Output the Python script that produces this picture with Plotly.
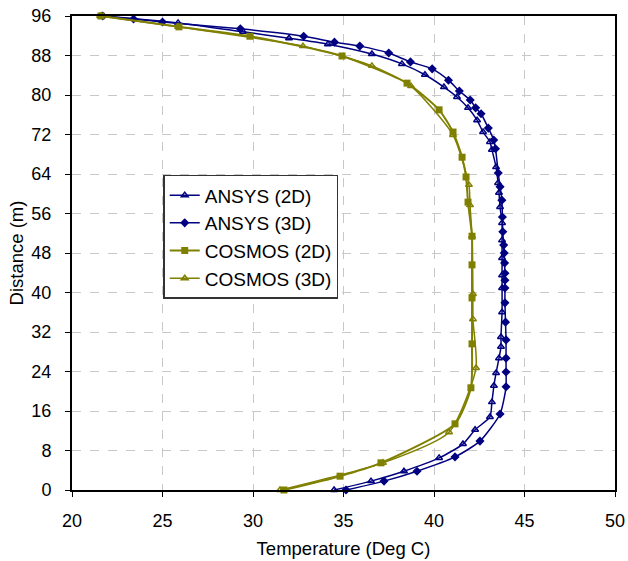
import plotly.graph_objects as go

# ANSYS (2D)
ansys2d_T = [21.66, 25.86, 29.45, 31.99, 34.14, 36.57, 38.23, 39.50, 40.55, 41.27, 41.88, 42.38,
             42.71, 43.09, 43.20, 43.43, 43.54, 43.59, 43.65, 43.76, 43.76, 43.76, 43.76, 43.76,
             43.76, 43.70, 43.70, 43.59, 43.43, 43.31, 43.20, 43.09, 42.27, 41.60, 40.28, 38.34,
             36.52, 34.48]
ansys2d_D = [96.0, 94.6, 92.8, 91.5, 90.3, 88.3, 86.3, 84.1, 81.6, 79.6, 77.4, 74.9,
             72.5, 70.5, 68.9, 65.4, 62.2, 60.2, 57.3, 54.1, 50.6, 47.0, 43.5, 40.9,
             36.0, 31.0, 29.0, 26.7, 23.7, 21.1, 17.8, 14.8, 12.2, 9.3, 6.5, 3.8,
             1.8, 0.0]

# ANSYS (3D)
ansys3d_T = [21.7, 23.4, 25.0, 29.3, 32.8, 34.5, 35.9, 37.5, 38.7, 39.9, 40.8, 41.4, 42.0, 42.3,
             42.6, 43.0, 43.3, 43.4, 43.55, 43.65, 43.75, 43.78, 43.8, 43.85, 43.88, 43.9,
             43.92, 43.92, 43.92, 43.92, 43.95, 43.98, 43.98, 43.98, 43.98, 43.65, 42.54,
             41.16, 39.06, 37.24, 35.14]
ansys3d_D = [96.0, 95.4, 94.8, 93.4, 91.9, 90.7, 89.9, 88.5, 86.7, 85.3, 83.0, 80.8, 79.0, 77.4,
             76.2, 73.3, 70.9, 69.1, 64.2, 61.4, 58.7, 55.3, 52.3, 49.6, 48.0, 46.0,
             43.9, 42.5, 40.9, 37.9, 34.0, 30.4, 26.7, 23.9, 20.9, 15.4, 9.9,
             6.7, 3.8, 1.8, 0.0]

# COSMOS (2D)
cosmos2d_T = [21.6, 25.91, 29.83, 34.92, 38.51, 40.28, 41.05, 41.55, 41.77, 41.88, 42.10,
              42.10, 42.10, 42.10, 42.04, 41.16, 37.07, 34.81, 31.71]
cosmos2d_D = [96.0, 93.8, 91.9, 87.9, 82.4, 77.0, 72.5, 67.4, 63.4, 58.3, 51.4,
              45.6, 38.9, 29.6, 20.7, 13.4, 5.5, 2.8, 0.0]

# COSMOS (3D)
cosmos3d_T = [21.55, 25.86, 32.76, 36.57, 38.73, 41.05, 41.93, 41.99, 42.10, 42.15, 42.15,
              42.32, 40.83, 37.18, 31.49]
cosmos3d_D = [96.0, 93.8, 89.9, 85.9, 81.8, 71.9, 61.8, 57.7, 51.4, 39.7, 34.6,
              24.7, 11.7, 5.5, 0.0]

x_ticks = [20, 25, 30, 35, 40, 45, 50]
y_ticks = [0, 8, 16, 24, 32, 40, 48, 56, 64, 72, 80, 88, 96]

NAVY = "#000080"
OLIVE = "#808000"

fig = go.Figure()
fig.add_trace(go.Scatter(x=ansys2d_T, y=ansys2d_D, name="ANSYS (2D)", mode="lines+markers",
                         line=dict(color=NAVY, width=1.5, shape="spline", smoothing=0.6),
                         marker=dict(symbol="triangle-up-open", size=6, color=NAVY, line=dict(width=1.5)),
                         cliponaxis=False))
fig.add_trace(go.Scatter(x=ansys3d_T, y=ansys3d_D, name="ANSYS (3D)", mode="lines+markers",
                         line=dict(color=NAVY, width=1.5, shape="spline", smoothing=0.6),
                         marker=dict(symbol="diamond", size=7, color=NAVY),
                         cliponaxis=False))
fig.add_trace(go.Scatter(x=cosmos2d_T, y=cosmos2d_D, name="COSMOS (2D)", mode="lines+markers",
                         line=dict(color=OLIVE, width=2, shape="spline", smoothing=0.6),
                         marker=dict(symbol="square", size=7, color=OLIVE),
                         cliponaxis=False))
fig.add_trace(go.Scatter(x=cosmos3d_T, y=cosmos3d_D, name="COSMOS (3D)", mode="lines+markers",
                         line=dict(color=OLIVE, width=1.5, shape="spline", smoothing=0.6),
                         marker=dict(symbol="triangle-up-open", size=6, color=OLIVE, line=dict(width=1.5)),
                         cliponaxis=False))

font_family = "Liberation Sans, Arial, sans-serif"
fig.update_layout(
    width=628, height=561,
    margin=dict(l=72, r=13, t=16, b=71, autoexpand=False),
    paper_bgcolor="white", plot_bgcolor="white",
    font=dict(family=font_family, size=18, color="black"),
    showlegend=True,
    legend=dict(x=0.168, y=0.665, xanchor="left", yanchor="top",
                bgcolor="white", bordercolor="#333333", borderwidth=1.5,
                font=dict(size=19), tracegroupgap=0),
    xaxis=dict(range=[20, 50], tickvals=x_ticks, ticks="outside", ticklen=5, tickcolor="black",
               showline=True, linecolor="black", linewidth=2, mirror=True,
               showgrid=True, gridcolor="#c8c8c8", griddash="dash", gridwidth=1,
               zeroline=False, automargin=False, ticklabelstandoff=8,
               title=dict(text="Temperature (Deg C)", standoff=12, font=dict(size=18.5)),
               tickfont=dict(size=18)),
    yaxis=dict(range=[0, 96], tickvals=y_ticks, ticks="outside", ticklen=5, tickcolor="black",
               showline=True, linecolor="black", linewidth=2, mirror=True,
               showgrid=True, gridcolor="#c8c8c8", griddash="dash", gridwidth=1,
               zeroline=False, automargin=False, ticklabelstandoff=10,
               title=dict(text="Distance (m)", standoff=3, font=dict(size=18.5)),
               tickfont=dict(size=18)),
)

fig.write_html("out.html")
